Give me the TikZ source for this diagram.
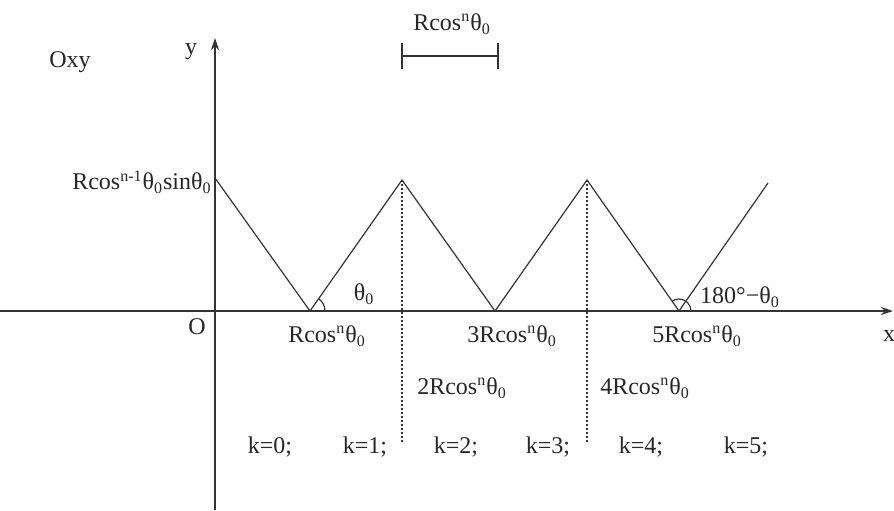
\documentclass[tikz,border=0pt]{standalone}
\usepackage{fontspec}
\setmainfont{Liberation Serif}
\usetikzlibrary{arrows.meta}
\newcommand{\Rc}{Rcos\textsuperscript{n}θ\textsubscript{0}}
\begin{document}
\begin{tikzpicture}[x=0.5pt,y=-0.5pt,
  ln/.style={draw=black!80, line width=0.6pt},
  dot/.style={draw=black!80, line width=0.7pt, dash pattern=on 0.8pt off 1.2pt},
  lbl/.style={inner sep=1pt, font=\fontsize{12}{14}\selectfont, text=black!85}]
\useasboundingbox (0,0) rectangle (894,510);
% axes
\coordinate (xs) at (0,311);
\coordinate (xe) at (893,311);
\coordinate (ys) at (215,510);
\coordinate (ye) at (215,38);
\draw[ln,-{Stealth[length=6pt,width=4pt]}] (xs) -- (xe);
\draw[ln,-{Stealth[length=6pt,width=4pt]}] (ys) -- (ye);
% zigzag
\coordinate (p0) at (215,178);
\coordinate (p1) at (310,311);
\coordinate (p2) at (402,180);
\coordinate (p3) at (495,311);
\coordinate (p4) at (587,180);
\coordinate (p5) at (679,311);
\coordinate (p6) at (768,183);
\draw[ln] (p0) -- (p1) -- (p2) -- (p3) -- (p4) -- (p5) -- (p6);
% dotted lines
\coordinate (d2) at (402,442);
\coordinate (d4) at (587,442);
\draw[dot] (p2) -- (d2);
\draw[dot] (p4) -- (d4);
% scale bar
\coordinate (sa) at (402,56);
\coordinate (sb) at (498,56);
\draw[ln] (sa) -- (sb);
\draw[ln] ([yshift=-6.5pt]sa) -- ([yshift=6.5pt]sa);
\draw[ln] ([yshift=-6.5pt]sb) -- ([yshift=6.5pt]sb);
\node[lbl] (sl) at (452,24) {\Rc};
% angles
\draw[ln] ([xshift=7.5pt]p1) arc[start angle=0, end angle=55, radius=7.5pt];
\draw[ln] ([xshift=6pt]p5) arc[start angle=0, end angle=125, radius=6pt];
\node[lbl] (th) at (364,294) {θ\textsubscript{0}};
\node[lbl] (th2) at (740,297) {180°−θ\textsubscript{0}};
% labels
\node[lbl] (oxy) at (70,62) {Oxy};
\node[lbl] (ylab) at (191,52) {y};
\node[lbl] (xlab) at (889,336) {x};
\node[lbl] (o) at (197,327) {O};
\node[lbl, anchor=east] (h) at (214,182) {Rcos\textsuperscript{n-1}θ\textsubscript{0}sinθ\textsubscript{0}};
\node[lbl] (l1) at (327,336) {\Rc};
\node[lbl] (l3) at (512,336) {3\Rc};
\node[lbl] (l5) at (697,336) {5\Rc};
\node[lbl] (l2) at (462,388) {2\Rc};
\node[lbl] (l4) at (645,388) {4\Rc};
\node[lbl] (k0) at (270,447) {k=0;};
\node[lbl] (k1) at (365,447) {k=1;};
\node[lbl] (k2) at (456,447) {k=2;};
\node[lbl] (k3) at (548,447) {k=3;};
\node[lbl] (k4) at (641,447) {k=4;};
\node[lbl] (k5) at (746,447) {k=5;};
\end{tikzpicture}
\end{document}
